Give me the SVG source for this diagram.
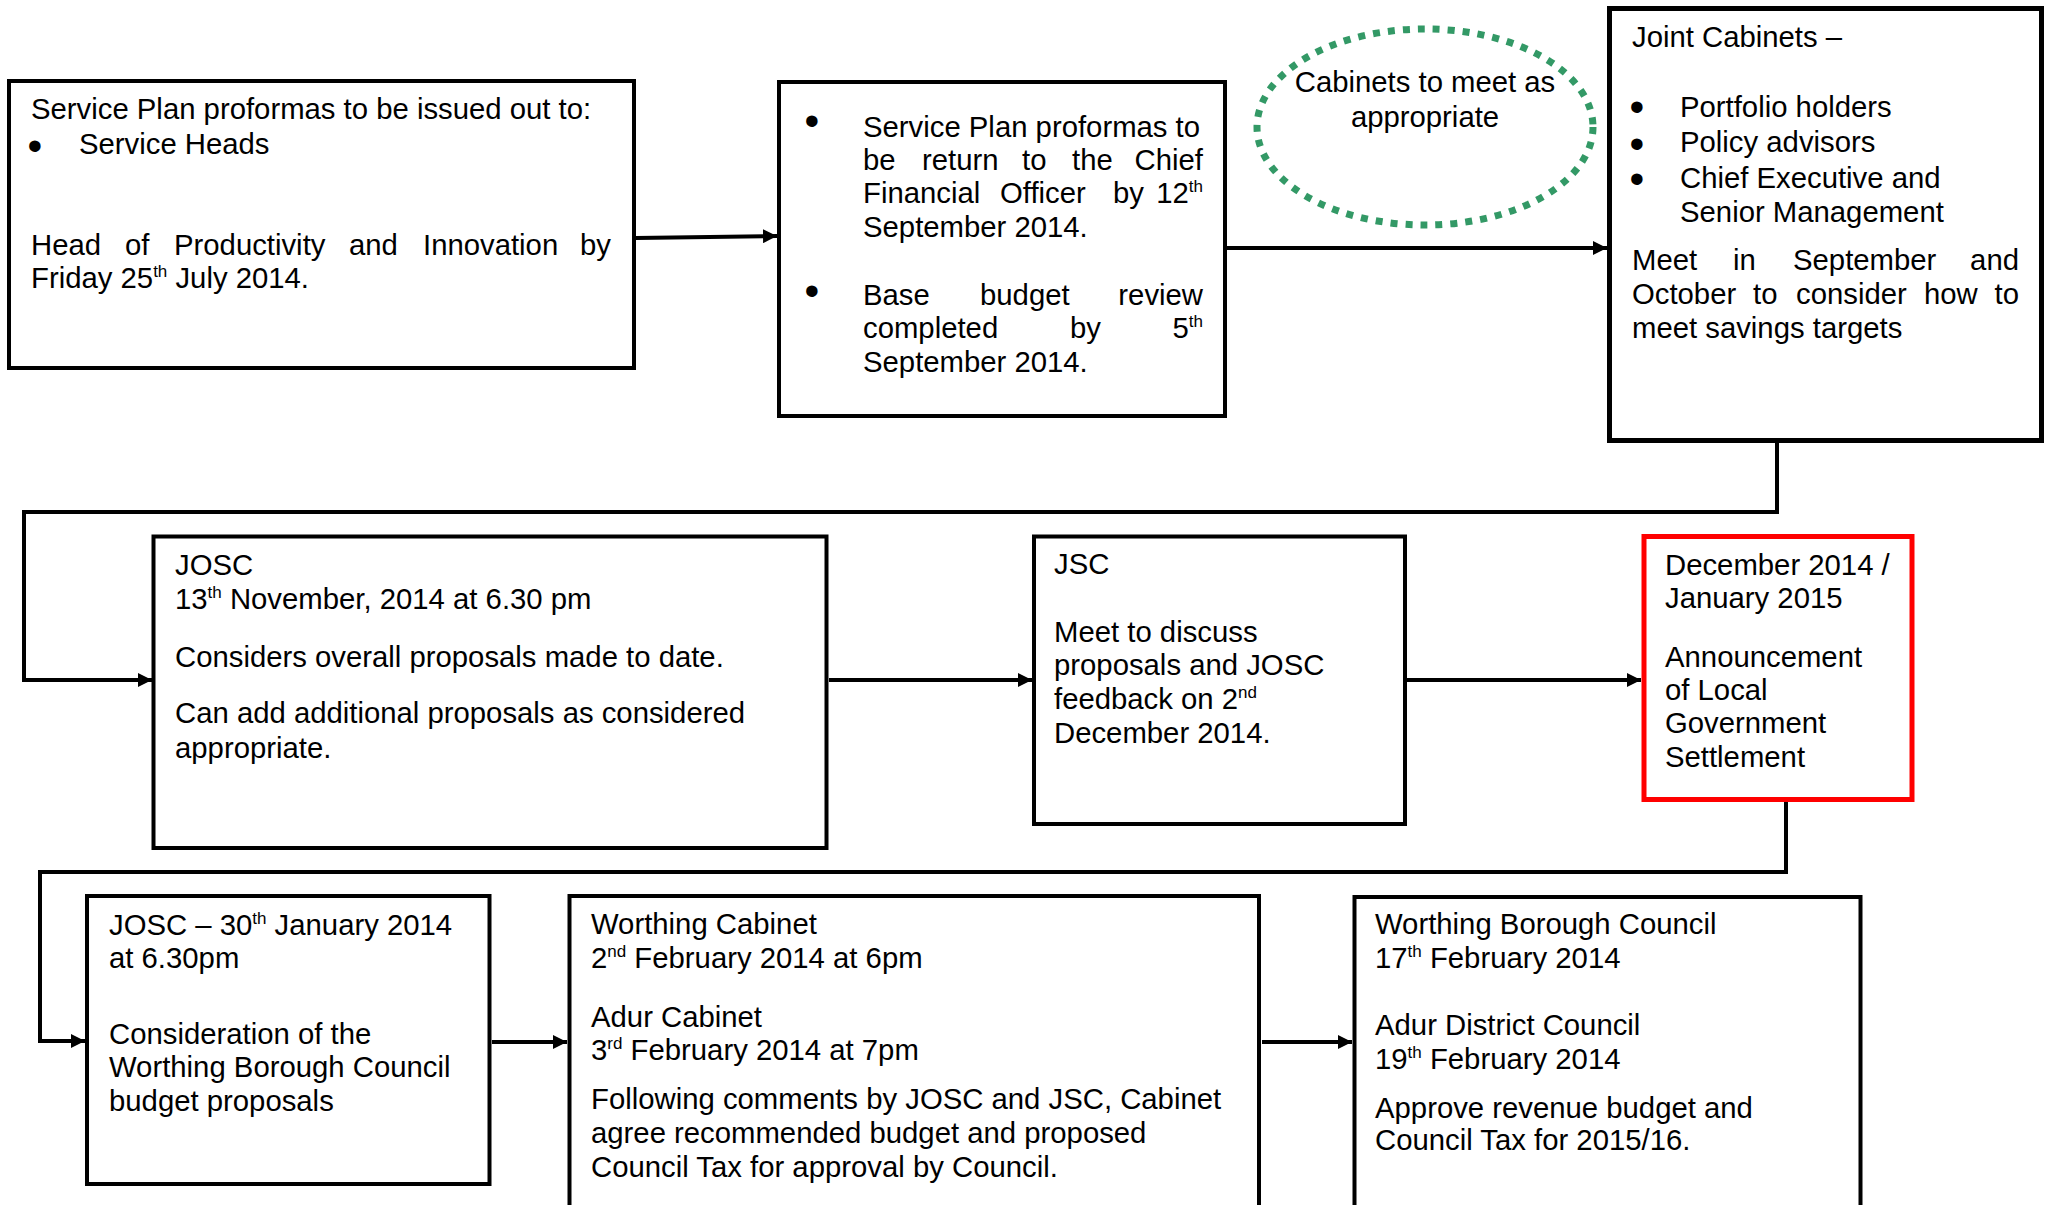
<svg xmlns="http://www.w3.org/2000/svg" width="2051" height="1205" viewBox="0 0 2051 1205">
<style>
  text { font-family: "Liberation Sans", Arial, sans-serif; font-size: 29.3px; fill: #000; }
  .sup { font-size: 17px; }
  .bul { font-size: 42px; }
  .box { fill: #fff; stroke: #000; stroke-width: 4; }
  .thick { stroke-width: 5; }
  .red { fill: #fff; stroke: #ff0000; stroke-width: 5; }
  .conn { fill: none; stroke: #000; stroke-width: 4; }
  .dots { fill: none; stroke: #339966; stroke-width: 7; stroke-dasharray: 7 8; }
</style>
<defs>
  <marker id="arrow" markerUnits="userSpaceOnUse" markerWidth="14" markerHeight="14" viewBox="0 0 14 14" refX="14" refY="7" orient="auto">
    <path d="M0,0 L14,7 L0,14 z" fill="#000"/>
  </marker>
</defs>

<g id="connectors">
  <path class="conn" d="M636 238 L777 236" marker-end="url(#arrow)"/>
  <path class="conn" d="M1227 248 H1607" marker-end="url(#arrow)"/>
  <path class="conn" d="M1777 443 V512 H24 V680 H152" marker-end="url(#arrow)"/>
  <path class="conn" d="M829 680 H1032" marker-end="url(#arrow)"/>
  <path class="conn" d="M1407 680 H1641" marker-end="url(#arrow)"/>
  <path class="conn" d="M1786 802 V872 H40 V1041 H85" marker-end="url(#arrow)"/>
  <path class="conn" d="M492 1042 H567" marker-end="url(#arrow)"/>
  <path class="conn" d="M1262 1042 H1352" marker-end="url(#arrow)"/>
</g>

<g id="node-service-plan-issue">
  <rect class="box" x="9" y="81" width="625" height="287"/>
  <text x="31" y="119">Service Plan proformas to be issued out to:</text>
  <text class="bul" x="27.5" y="160">•</text>
  <text x="79" y="154">Service Heads</text>
  <text y="255"><tspan x="31">Head</tspan><tspan x="125">of</tspan><tspan x="174">Productivity</tspan><tspan x="349">and</tspan><tspan x="423">Innovation</tspan></text>
  <text x="611" y="255" text-anchor="end">by</text>
  <text x="31" y="288">Friday 25<tspan class="sup" dy="-11">th</tspan><tspan dy="11"> July 2014.</tspan></text>
</g>

<g id="node-service-plan-return">
  <rect class="box" x="779" y="82" width="446" height="334"/>
  <text class="bul" x="804.5" y="135">•</text>
  <text x="863" y="137">Service Plan proformas to</text>
  <text y="170"><tspan x="863">be</tspan><tspan x="922">return</tspan><tspan x="1022">to</tspan><tspan x="1072">the</tspan></text>
  <text x="1203" y="170" text-anchor="end">Chief</text>
  <text y="203"><tspan x="863">Financial</tspan><tspan x="1000">Officer</tspan><tspan x="1113">by</tspan></text>
  <text x="1203" y="203" text-anchor="end">12<tspan class="sup" dy="-11">th</tspan></text>
  <text x="863" y="237">September 2014.</text>
  <text class="bul" x="804.5" y="305">•</text>
  <text y="305"><tspan x="863">Base</tspan><tspan x="980">budget</tspan></text>
  <text x="1203" y="305" text-anchor="end">review</text>
  <text y="338"><tspan x="863">completed</tspan><tspan x="1070">by</tspan></text>
  <text x="1203" y="338" text-anchor="end">5<tspan class="sup" dy="-11">th</tspan></text>
  <text x="863" y="372">September 2014.</text>
</g>

<g id="node-cabinets-meet">
  <ellipse class="dots" cx="1425" cy="127" rx="168" ry="98"/>
  <text x="1425" y="92" text-anchor="middle">Cabinets to meet as</text>
  <text x="1425" y="127" text-anchor="middle">appropriate</text>
</g>

<g id="node-joint-cabinets">
  <rect class="box thick" x="1609.5" y="8.5" width="432" height="432"/>
  <text x="1632" y="47">Joint Cabinets –</text>
  <text class="bul" x="1629.5" y="121">•</text>
  <text x="1680" y="117">Portfolio holders</text>
  <text class="bul" x="1629.5" y="158">•</text>
  <text x="1680" y="152">Policy advisors</text>
  <text class="bul" x="1629.5" y="193">•</text>
  <text x="1680" y="188">Chief Executive and</text>
  <text x="1680" y="222">Senior Management</text>
  <text y="270"><tspan x="1632">Meet</tspan><tspan x="1733">in</tspan><tspan x="1793">September</tspan></text>
  <text x="2019" y="270" text-anchor="end">and</text>
  <text y="304"><tspan x="1632">October</tspan><tspan x="1753">to</tspan><tspan x="1796">consider</tspan><tspan x="1924">how</tspan></text>
  <text x="2019" y="304" text-anchor="end">to</text>
  <text x="1632" y="338">meet savings targets</text>
</g>

<g id="node-josc-nov">
  <rect class="box" x="153.5" y="536.5" width="673" height="311.5"/>
  <text x="175" y="575">JOSC</text>
  <text x="175" y="609">13<tspan class="sup" dy="-11">th</tspan><tspan dy="11"> November, 2014 at 6.30 pm</tspan></text>
  <text x="175" y="667">Considers overall proposals made to date.</text>
  <text x="175" y="723">Can add additional proposals as considered</text>
  <text x="175" y="758">appropriate.</text>
</g>

<g id="node-jsc">
  <rect class="box" x="1034" y="536.5" width="371" height="287.5"/>
  <text x="1054" y="574">JSC</text>
  <text x="1054" y="642">Meet to discuss</text>
  <text x="1054" y="675">proposals and JOSC</text>
  <text x="1054" y="709">feedback on 2<tspan class="sup" dy="-11">nd</tspan></text>
  <text x="1054" y="743">December 2014.</text>
</g>

<g id="node-settlement">
  <rect class="red" x="1644" y="536.5" width="268" height="263"/>
  <text x="1665" y="575">December 2014 /</text>
  <text x="1665" y="608">January 2015</text>
  <text x="1665" y="667">Announcement</text>
  <text x="1665" y="700">of Local</text>
  <text x="1665" y="733">Government</text>
  <text x="1665" y="767">Settlement</text>
</g>

<g id="node-josc-jan">
  <rect class="box" x="87" y="896" width="402.5" height="288"/>
  <text x="109" y="935">JOSC – 30<tspan class="sup" dy="-11">th</tspan><tspan dy="11"> January 2014</tspan></text>
  <text x="109" y="968">at 6.30pm</text>
  <text x="109" y="1044">Consideration of the</text>
  <text x="109" y="1077">Worthing Borough Council</text>
  <text x="109" y="1111">budget proposals</text>
</g>

<g id="node-cabinets-feb">
  <rect class="box" x="569.5" y="896" width="689.5" height="340"/>
  <text x="591" y="934">Worthing Cabinet</text>
  <text x="591" y="968">2<tspan class="sup" dy="-11">nd</tspan><tspan dy="11"> February 2014 at 6pm</tspan></text>
  <text x="591" y="1027">Adur Cabinet</text>
  <text x="591" y="1060">3<tspan class="sup" dy="-11">rd</tspan><tspan dy="11"> February 2014 at 7pm</tspan></text>
  <text x="591" y="1109">Following comments by JOSC and JSC, Cabinet</text>
  <text x="591" y="1143">agree recommended budget and proposed</text>
  <text x="591" y="1177">Council Tax for approval by Council.</text>
</g>

<g id="node-councils">
  <rect class="box" x="1354.5" y="897" width="506" height="340"/>
  <text x="1375" y="934">Worthing Borough Council</text>
  <text x="1375" y="968">17<tspan class="sup" dy="-11">th</tspan><tspan dy="11"> February 2014</tspan></text>
  <text x="1375" y="1035">Adur District Council</text>
  <text x="1375" y="1069">19<tspan class="sup" dy="-11">th</tspan><tspan dy="11"> February 2014</tspan></text>
  <text x="1375" y="1118">Approve revenue budget and</text>
  <text x="1375" y="1150">Council Tax for 2015/16.</text>
</g>
</svg>
